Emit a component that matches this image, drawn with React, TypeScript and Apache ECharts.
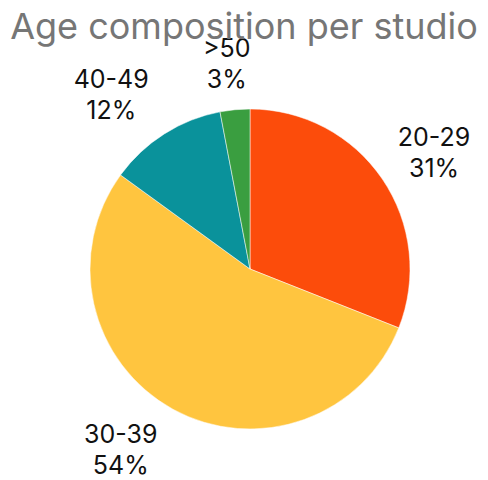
import React, { useEffect, useRef } from "react";
import * as echarts from "echarts";

const categories = ["20-29", "30-39", "40-49", ">50"];
const values = [31, 54, 12, 3];
const colors = ["#FC4C0B", "#FFC53F", "#0A929B", "#3A9E40"];

const CX = 250;
const CY = 269;
const R = 160;

export default function App() {
  const ref = useRef<HTMLDivElement>(null);
  useEffect(() => {
    document.body.style.margin = "0";
    const chart = echarts.init(ref.current!, null, { renderer: "svg" });
    const data = categories.map((c, i) => ({ name: c, value: values[i] }));
    const total = values.reduce((a, b) => a + b, 0);
    const mids: number[] = [];
    let cum = 0;
    values.forEach((v) => {
      mids.push(((cum + v / 2) / total) * Math.PI * 2);
      cum += v;
    });
    chart.setOption({
      animation: false,
      title: {
        text: "Age composition per studio",
        left: "center",
        top: 3,
        textStyle: { color: "#767676", fontSize: 36, fontWeight: "normal", fontFamily: "Inter" },
      },
      color: colors,
      series: [
        {
          type: "pie",
          center: [CX, CY],
          radius: R,
          startAngle: 90,
          clockwise: true,
          avoidLabelOverlap: false,
          data,
          label: {
            show: true,
            position: "outside",
            formatter: "{b}\n{d}%",
            color: "#111",
            fontSize: 25,
            lineHeight: 31,
            fontFamily: "Inter",
            align: "center",
          },
          labelLine: { show: false },
          labelLayout: (p: any) => {
            const a = mids[p.dataIndex];
            const ux = Math.sin(a);
            const uy = -Math.cos(a);
            const w = p.labelRect.width;
            const h = p.labelRect.height;
            const k = Math.max(-1, Math.min(1, ux / 0.45));
            return {
              x: CX + ux * R + k * (w / 2 + h / 4),
              y: CY + uy * R + uy * 0.75 * h,
              align: "center",
              verticalAlign: "middle",
            };
          },
          itemStyle: { borderColor: "#ffffff", borderWidth: 0.5 },
        },
      ],
    });
    return () => chart.dispose();
  }, []);
  return <div ref={ref} style={{ width: 488, height: 480 }} />;
}
